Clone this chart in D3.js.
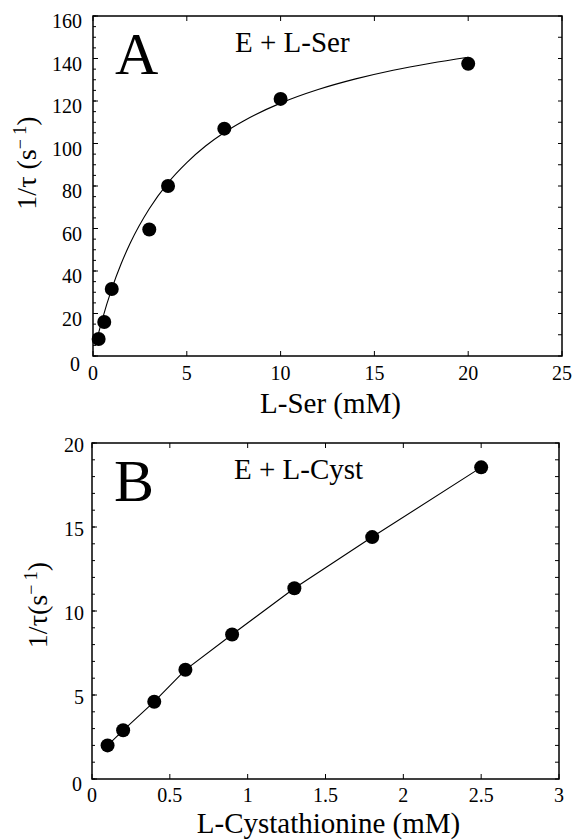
<!DOCTYPE html>
<html>
<head>
<meta charset="utf-8">
<script src="https://cdn.jsdelivr.net/npm/d3@7"></script>
<style>
  body { margin: 0; background: #fff; }
</style>
</head>
<body>
<div id="chart"></div>
<script>
// panel A : E + L-Ser
var serX = [0.3, 0.6, 1, 3, 4, 7, 10, 20];
var serY = [8, 16, 31.5, 59.5, 80, 107, 121, 137.5];
// fitted curve
var serFitX = [0.3, 0.5, 1, 1.5, 2, 3, 4, 5, 6, 7, 8, 10, 12, 14, 16, 18, 20];
var serFitY = [10.9, 17.4, 31.6, 43.4, 53.4, 69.3, 81.5, 91, 98.8, 105.2, 110.5, 119, 125.4, 130.4, 134.5, 137.8, 140.6];
var serXTicks = [0, 5, 10, 15, 20, 25];
var serYTicks = [0, 20, 40, 60, 80, 100, 120, 140, 160];

// panel B : E + L-Cyst
var cystX = [0.1, 0.2, 0.4, 0.6, 0.9, 1.3, 1.8, 2.5];
var cystY = [2.0, 2.9, 4.6, 6.5, 8.6, 11.35, 14.4, 18.55];
var cystXTicks = [0, 0.5, 1, 1.5, 2, 2.5, 3];
var cystYTicks = [0, 5, 10, 15, 20];

var serif = "Liberation Serif";

var svg = d3.select("#chart").append("svg")
  .attr("width", 573)
  .attr("height", 840)
  .style("font-family", serif);

function panel(opt) {
  var x = d3.scaleLinear().domain(opt.xDomain).range([opt.left, opt.right]);
  var y = d3.scaleLinear().domain(opt.yDomain).range([opt.bottom, opt.top]);
  var g = svg.append("g");

  // minor ticks left / right
  g.selectAll(".minl")
    .data(d3.range(opt.yDomain[0], opt.yDomain[1] + 1e-9, opt.leftMinor))
    .enter().append("line")
    .attr("x1", opt.left).attr("x2", opt.left + 3)
    .attr("y1", function (d) { return y(d); })
    .attr("y2", function (d) { return y(d); })
    .attr("stroke", "#000").attr("stroke-width", 1);
  g.selectAll(".minr")
    .data(d3.range(opt.yDomain[0], opt.yDomain[1] + 1e-9, opt.rightMinor))
    .enter().append("line")
    .attr("x1", opt.right).attr("x2", opt.right - 4)
    .attr("y1", function (d) { return y(d); })
    .attr("y2", function (d) { return y(d); })
    .attr("stroke", "#000").attr("stroke-width", 1);

  // major ticks top / bottom / left
  g.selectAll(".tx")
    .data(opt.xTicks)
    .enter().append("line")
    .attr("x1", function (d) { return x(d); })
    .attr("x2", function (d) { return x(d); })
    .attr("y1", opt.bottom).attr("y2", opt.bottom - 5)
    .attr("stroke", "#000");
  g.selectAll(".ttx")
    .data(opt.xTicks)
    .enter().append("line")
    .attr("x1", function (d) { return x(d); })
    .attr("x2", function (d) { return x(d); })
    .attr("y1", opt.top).attr("y2", opt.top + 5)
    .attr("stroke", "#000");
  g.selectAll(".ty")
    .data(opt.yTicks)
    .enter().append("line")
    .attr("x1", opt.left).attr("x2", opt.left + 5)
    .attr("y1", function (d) { return y(d); })
    .attr("y2", function (d) { return y(d); })
    .attr("stroke", "#000");

  // frame
  g.append("rect")
    .attr("x", opt.left).attr("y", opt.top)
    .attr("width", opt.right - opt.left)
    .attr("height", opt.bottom - opt.top)
    .attr("fill", "none")
    .attr("stroke", "#000")
    .attr("stroke-width", 1.5);

  // tick labels
  g.selectAll(".lx")
    .data(opt.xTicks)
    .enter().append("text")
    .attr("x", function (d) { return x(d); })
    .attr("y", opt.bottom + opt.xLabelDy)
    .attr("text-anchor", "middle")
    .style("font-family", serif)
    .style("font-size", "20px")
    .text(function (d) { return d; });
  g.selectAll(".ly")
    .data(opt.yTicks)
    .enter().append("text")
    .attr("x", function (d) { return d === 0 ? opt.left - opt.yLabelGap - 2 : opt.left - opt.yLabelGap; })
    .attr("y", function (d) { return y(d) + opt.yLabelDy + (d === 0 ? 3 : 0); })
    .attr("text-anchor", "end")
    .style("font-family", serif)
    .style("font-size", "20px")
    .text(function (d) { return d; });

  // fit line
  var line = d3.line()
    .x(function (d) { return x(d[0]); })
    .y(function (d) { return y(d[1]); })
    .curve(opt.curve);
  g.append("path")
    .datum(d3.zip(opt.lineX, opt.lineY))
    .attr("d", line)
    .attr("fill", "none")
    .attr("stroke", "#000")
    .attr("stroke-width", 1.1);

  // points
  g.selectAll(".pt")
    .data(d3.zip(opt.ptX, opt.ptY))
    .enter().append("circle")
    .attr("cx", function (d) { return x(d[0]); })
    .attr("cy", function (d) { return y(d[1]); })
    .attr("r", 7)
    .attr("fill", "#000");

  // letter and label
  g.append("text")
    .attr("x", opt.left + 22).attr("y", opt.top + 58)
    .style("font-family", serif)
    .style("font-size", "60px")
    .text(opt.letter);
  g.append("text")
    .attr("x", opt.left + 142).attr("y", opt.top + 36)
    .style("font-family", serif)
    .style("font-size", "29px")
    .text(opt.title);

  // axis titles
  g.append("text")
    .attr("x", (opt.left + opt.right) / 2 + 3)
    .attr("y", opt.bottom + opt.xTitleDy)
    .attr("text-anchor", "middle")
    .style("font-family", serif)
    .style("font-size", "29px")
    .text(opt.xTitle);
  var yt = g.append("text")
    .attr("transform", "translate(" + opt.yTitleX + "," + opt.yTitleY + ") rotate(-90)")
    .attr("text-anchor", "middle")
    .style("font-family", serif)
    .style("font-size", "28px");
  yt.append("tspan").text(opt.yTitlePre);
  yt.append("tspan").text("s");
  yt.append("tspan").attr("dy", -10).style("font-size", "18px").text("\u2212 1");
  yt.append("tspan").attr("dy", 10).text(")");
}

panel({
  left: 93, right: 562, top: 16, bottom: 356,
  xDomain: [0, 25], yDomain: [0, 160],
  xTicks: serXTicks, yTicks: serYTicks,
  leftMinor: 5, rightMinor: 10,
  xLabelDy: 24, yLabelGap: 11, yLabelDy: 12,
  lineX: serFitX, lineY: serFitY, curve: d3.curveMonotoneX,
  ptX: serX, ptY: serY,
  letter: "A", title: "E + L-Ser",
  xTitle: "L-Ser (mM)", xTitleDy: 57,
  yTitlePre: "1/\u03c4 (", yTitleX: 36, yTitleY: 163
});

panel({
  left: 92, right: 559, top: 443, bottom: 779,
  xDomain: [0, 3], yDomain: [0, 20],
  xTicks: cystXTicks, yTicks: cystYTicks,
  leftMinor: 1, rightMinor: 1,
  xLabelDy: 23, yLabelGap: 8, yLabelDy: 9,
  lineX: cystX, lineY: cystY, curve: d3.curveLinear,
  ptX: cystX, ptY: cystY,
  letter: "B", title: "E + L-Cyst",
  xTitle: "L-Cystathionine (mM)", xTitleDy: 54,
  yTitlePre: "1/\u03c4(", yTitleX: 47, yTitleY: 605
});
</script>
</body>
</html>
